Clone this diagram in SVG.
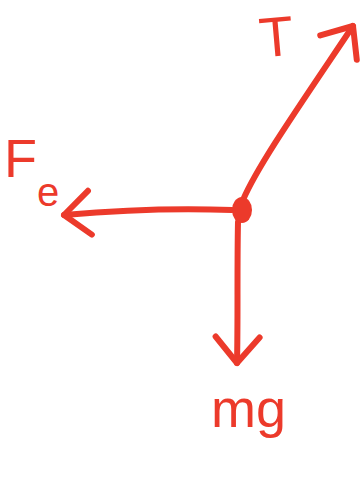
<svg xmlns="http://www.w3.org/2000/svg" width="361" height="479" viewBox="0 0 361 479">
<defs>
<style>
.c{fill:none;stroke:#ec3a2b;stroke-width:6;stroke-linecap:round;stroke-linejoin:round}
.t{fill:#ec3a2b;font-family:"Liberation Sans","DejaVu Sans",sans-serif}
</style>
<marker id="ah" viewBox="-32 -28 38 56" markerWidth="38" markerHeight="56" markerUnits="userSpaceOnUse" refX="0" refY="0" orient="auto">
<path d="M-26,-22 L0,0 L-26,22" fill="none" stroke="#ec3a2b" stroke-width="6" stroke-linecap="round" stroke-linejoin="round"/>
</marker>
</defs>
<rect width="361" height="479" fill="#ffffff"/>
<g id="connectors">
<path class="c" d="M243,200 C258,165 300,105 353,26" marker-end="url(#ah)"/>
<path class="c" d="M232,210 C180,208 120,210 64,215" marker-end="url(#ah)"/>
<path class="c" d="M238,222 C237,270 238,320 237,363" marker-end="url(#ah)"/>
</g>
<g id="body">
<ellipse cx="242" cy="210" rx="10" ry="13" fill="#ec3a2b"/>
</g>
<g id="label-T">
<text class="t" x="259" y="56" font-size="56" transform="rotate(-5 278 34)">T</text>
</g>
<g id="label-Fe">
<text class="t" x="4" y="177" font-size="54">F</text>
<text class="t" x="37" y="206" font-size="40">e</text>
</g>
<g id="label-mg">
<text class="t" x="211" y="427" font-size="54">mg</text>
</g>
</svg>
